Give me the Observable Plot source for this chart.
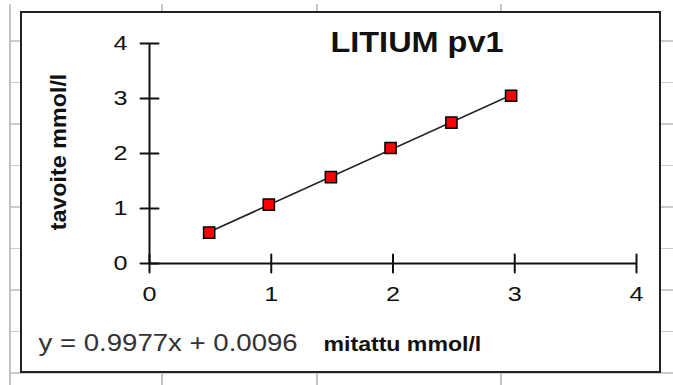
<!DOCTYPE html>
<html>
<head>
<meta charset="utf-8">
<script src="https://cdn.jsdelivr.net/npm/d3@7"></script>
<script src="https://cdn.jsdelivr.net/npm/@observablehq/plot@0.6"></script>
<style>
  html, body { margin: 0; padding: 0; background: #fff; }
  #page { position: relative; width: 673px; height: 385px; overflow: hidden; background: #fff; }
  #sheet {
    position: absolute; left: 9px; top: 4px; width: 664px; height: 381px;
    background-image:
      linear-gradient(to right, #c4c4c4 0 1.5px, transparent 1.5px 152px, #c4c4c4 152px 153.5px, transparent 153.5px 307px, #c4c4c4 307px 308.5px, transparent 308.5px 491px, #c4c4c4 491px 492.5px, transparent 492.5px),
      repeating-linear-gradient(to bottom, transparent 0 36px, #cccccc 36px 37.5px, transparent 37.5px 41.5px);
  }
  #frame {
    position: absolute; left: 20px; top: 11px; width: 641px; height: 362px;
    box-sizing: border-box; border: 2.5px solid #222; background: #fff;
  }
  #chart { position: absolute; left: 0; top: 0; }
</style>
</head>
<body>
<div id="page">
  <div id="sheet"></div>
  <div id="frame"></div>
  <div id="chart"></div>
</div>
<script>
// ---- data ----
const xValues = [0.49, 0.98, 1.49, 1.98, 2.48, 2.97];   // mitattu mmol/l
const yValues = [0.56, 1.07, 1.57, 2.10, 2.56, 3.05];   // tavoite mmol/l
const xTicks = [0, 1, 2, 3, 4];
const yTicks = [0, 1, 2, 3, 4];
const titleText = "LITIUM pv1";
const xLabel = "mitattu mmol/l";
const yLabel = "tavoite mmol/l";
const equation = "y = 0.9977x + 0.0096";

const data = xValues.map((x, i) => ({x, y: yValues[i]}));

const tickShape = {draw(context, l) { context.moveTo(0, 0); context.lineTo(0, -l); }};

const chart = Plot.plot({
  width: 673,
  height: 385,
  marginLeft: 149,
  marginRight: 37,
  marginTop: 43,
  marginBottom: 122,
  style: {background: "transparent", fontFamily: "'Liberation Sans', Arial, sans-serif", color: "#111", overflow: "visible"},
  x: {domain: [0, 4]},
  y: {domain: [0, 4]},
  marks: [
    Plot.ruleY([0], {stroke: "#111", strokeWidth: 2}),
    Plot.ruleX([0], {stroke: "#111", strokeWidth: 2}),
    Plot.vector(xTicks, {x: d => d, y: 0, length: 18, anchor: "middle", rotate: 0, shape: tickShape, stroke: "#111", strokeWidth: 2}),
    Plot.vector(yTicks, {x: 0, y: d => d, length: 18, anchor: "middle", rotate: 90, shape: tickShape, stroke: "#111", strokeWidth: 2}),
    Plot.axisX({ticks: xTicks, tickFormat: d3.format("d"), tickSize: 0, tickPadding: 23, fontSize: 21, label: null, fill: "#111"}),
    Plot.axisY({ticks: yTicks, tickFormat: d3.format("d"), tickSize: 0, tickPadding: 22, fontSize: 21, label: null, fill: "#111"}),
    Plot.linearRegressionY(data, {x: "x", y: "y", stroke: "#222", strokeWidth: 1.7, ci: 0}),
    Plot.dot(data, {x: "x", y: "y", symbol: "square", r: 6.3, fill: "#ff0000", stroke: "#000", strokeWidth: 1.5}),
    Plot.text([titleText], {text: d => d, frameAnchor: "top", textAnchor: "middle", lineAnchor: "top", dx: 24, dy: -12, fontSize: 29, fontWeight: "bold", fill: "#111"}),
    Plot.text([yLabel], {text: d => d, frameAnchor: "left", textAnchor: "middle", rotate: -90, lineAnchor: "top", dx: -99.5, dy: -1.5, fontSize: 22, fontWeight: "bold", fill: "#111"}),
    Plot.text([xLabel], {text: d => d, frameAnchor: "bottom-left", textAnchor: "start", lineAnchor: "top", dx: 174, dy: 73, fontSize: 21, fontWeight: "bold", fill: "#111"}),
    Plot.text([equation], {text: d => d, frameAnchor: "bottom-left", textAnchor: "start", lineAnchor: "top", dx: -111, dy: 71, fontSize: 23, fill: "#333"})
  ]
});

document.getElementById("chart").appendChild(chart);

// the reference's lettering is drawn horizontally stretched: widen each text along its own baseline
function widen(textEl, s) {
  const b = textEl.getBBox();
  const anchor = getComputedStyle(textEl).textAnchor;
  const ax = anchor === "end" ? b.x + b.width : anchor === "middle" ? b.x + b.width / 2 : b.x;
  const tr = textEl.getAttribute("transform") || "";
  textEl.setAttribute("transform", `${tr} translate(${ax},0) scale(${s},1) translate(${-ax},0)`);
}
chart.querySelectorAll('g[aria-label="x-axis tick label"] text, g[aria-label="y-axis tick label"] text').forEach(t => widen(t, 1.2));
const textGroups = [...chart.querySelectorAll('g[aria-label="text"]')];
const groupStretch = [1.12, 1.06, 1.1, 1.2]; // title, y label, x label, equation
textGroups.forEach((g, i) => g.querySelectorAll("text").forEach(t => widen(t, groupStretch[i] || 1)));
</script>
</body>
</html>
